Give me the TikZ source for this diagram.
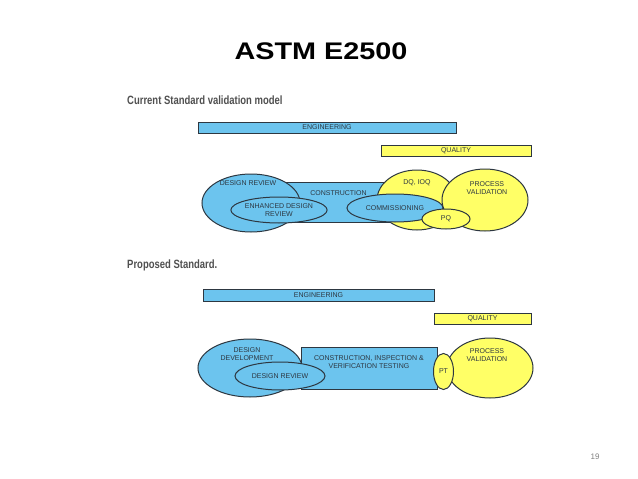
\documentclass[tikz,border=0pt]{standalone}
\usepackage{fontspec}
\setmainfont{Liberation Sans}
\usetikzlibrary{shapes.geometric,positioning}
\definecolor{engblue}{RGB}{108,196,238}
\definecolor{qualyellow}{RGB}{255,255,102}
\definecolor{edge}{RGB}{45,55,65}
\definecolor{headgray}{RGB}{80,80,80}
\tikzstyle{bar}=[rectangle,draw=edge,line width=1pt,inner sep=0pt,font=\fontsize{7}{7.5}\selectfont,text=edge]
\tikzstyle{blubar}=[bar,fill=engblue]
\tikzstyle{yelbar}=[bar,fill=qualyellow]
\tikzstyle{blob}=[ellipse,draw=edge,line width=1pt,inner sep=0pt]
\tikzstyle{lbl}=[font=\fontsize{7}{7.8}\selectfont,align=center,text=edge,inner sep=0pt]
\tikzstyle{head}=[anchor=west,inner sep=0pt,text=headgray,font=\fontsize{12}{13}\selectfont\bfseries]

\begin{document}
\begin{tikzpicture}[x=1pt,y=-1pt]
\useasboundingbox[fill=white] (0,0) rectangle (638,479);
\node[font=\fontsize{24}{26}\selectfont\bfseries] (title) at (321,51) {\scalebox{1.2}[1]{ASTM E2500}};
% current model
\node[head] (cur) at (127,100) {\scalebox{0.79}[1]{Current Standard validation model}};
\node[blubar,minimum width=258pt,minimum height=11pt] (eng1) at (327,127.5) {ENGINEERING};
\node[yelbar,minimum width=150pt,minimum height=11pt] (qual1) at (456,150.5) {QUALITY};
\node[rectangle,draw=edge,line width=1pt,fill=engblue,minimum width=113pt,minimum height=40pt] (con) at (338.5,202) {};
\node[lbl] at ([yshift=9pt]con.center) {CONSTRUCTION};
\node[blob,fill=engblue,minimum width=98pt,minimum height=58pt] (dr1) at (251,203) {};
\node[lbl] at ([xshift=-3pt,yshift=20pt]dr1.center) {DESIGN REVIEW};
\node[blob,fill=engblue,minimum width=92pt,minimum height=26pt,lbl] (edr) at (279,210) {ENHANCED DESIGN\\REVIEW};
\node[blob,fill=qualyellow,minimum width=80pt,minimum height=60pt] (dq) at (417,200) {};
\node[lbl] at ([yshift=17pt]dq.center) {DQ, IOQ};
\node[blob,fill=qualyellow,minimum width=86pt,minimum height=62pt] (pv1) at (485,200) {};
\node[lbl] at ([xshift=2pt,yshift=12pt]pv1.center) {PROCESS\\VALIDATION};
\node[blob,fill=engblue,minimum width=96pt,minimum height=28pt,lbl] (com) at (395,208) {COMMISSIONING};
\node[blob,fill=qualyellow,minimum width=48pt,minimum height=20pt,lbl] (pq) at (446,219) {PQ};
% proposed standard
\node[head] (prop) at (127,265) {\scalebox{0.79}[1]{Proposed Standard.}};
\node[blubar,minimum width=231pt,minimum height=12pt] (eng2) at (318.5,295) {ENGINEERING};
\node[yelbar,minimum width=97pt,minimum height=11pt] (qual2) at (482.5,318.5) {QUALITY};
\node[blob,fill=engblue,minimum width=104pt,minimum height=58pt] (dd) at (250,368) {};
\node[lbl] at ([xshift=-3pt,yshift=14pt]dd.center) {DESIGN\\DEVELOPMENT};
\node[rectangle,draw=edge,line width=1pt,fill=engblue,minimum width=136pt,minimum height=42pt] (cit) at (369,368) {};
\node[lbl] at ([yshift=6pt]cit.center) {CONSTRUCTION, INSPECTION \&\\VERIFICATION TESTING};
\node[blob,fill=engblue,minimum width=90pt,minimum height=28pt,lbl] (dr2) at (280,376) {DESIGN REVIEW};
\node[blob,fill=qualyellow,minimum width=86pt,minimum height=60pt] (pv2) at (490,368) {};
\node[lbl] at ([xshift=-3pt,yshift=13pt]pv2.center) {PROCESS\\VALIDATION};
\node[blob,fill=qualyellow,minimum width=20pt,minimum height=36pt,lbl] (pt) at (443.5,371.5) {PT};
\node[text=gray,font=\fontsize{8}{9}\selectfont] (page) at (595,457) {19};
\end{tikzpicture}
\end{document}
